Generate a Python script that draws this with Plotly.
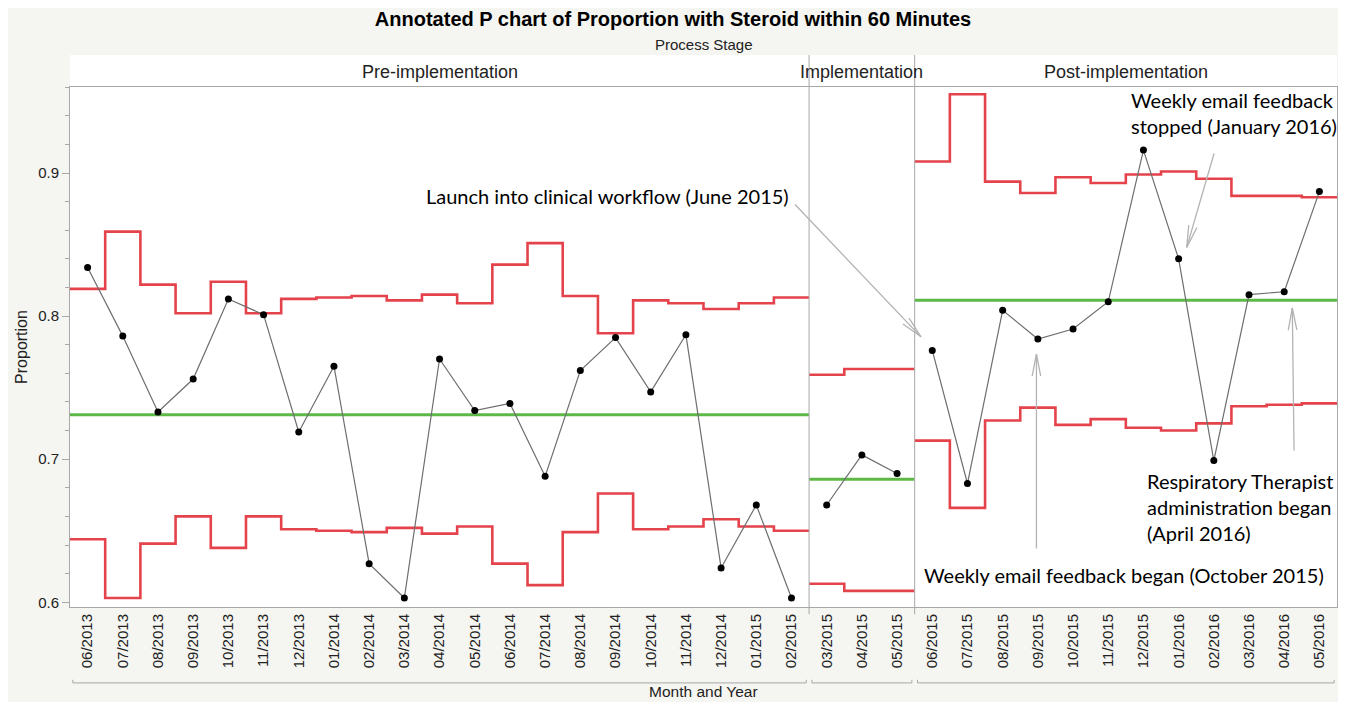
import math
import plotly.graph_objects as go

# ---------------- data ----------------
months = ["06/2013", "07/2013", "08/2013", "09/2013", "10/2013", "11/2013", "12/2013",
          "01/2014", "02/2014", "03/2014", "04/2014", "05/2014", "06/2014", "07/2014",
          "08/2014", "09/2014", "10/2014", "11/2014", "12/2014", "01/2015", "02/2015",
          "03/2015", "04/2015", "05/2015",
          "06/2015", "07/2015", "08/2015", "09/2015", "10/2015", "11/2015", "12/2015",
          "01/2016", "02/2016", "03/2016", "04/2016", "05/2016"]

stage_names = ["Pre-implementation", "Implementation", "Post-implementation"]
stage_sizes = [21, 3, 12]

proportion = [0.834, 0.786, 0.733, 0.756, 0.812, 0.801, 0.719, 0.765, 0.627, 0.603,
              0.770, 0.734, 0.739, 0.688, 0.762, 0.785, 0.747, 0.787, 0.624, 0.668, 0.603,
              0.668, 0.703, 0.690,
              0.776, 0.683, 0.804, 0.784, 0.791, 0.810, 0.916, 0.840, 0.699, 0.815, 0.817, 0.887]

ucl = [0.819, 0.859, 0.822, 0.802, 0.824, 0.802, 0.812, 0.813, 0.814, 0.811,
       0.815, 0.809, 0.836, 0.851, 0.814, 0.788, 0.811, 0.809, 0.805, 0.809, 0.813,
       0.759, 0.763, 0.763,
       0.908, 0.955, 0.894, 0.886, 0.897, 0.893, 0.899, 0.901, 0.896, 0.884, 0.884, 0.883]

lcl = [0.644, 0.603, 0.641, 0.660, 0.638, 0.660, 0.651, 0.650, 0.649, 0.652,
       0.648, 0.653, 0.627, 0.612, 0.649, 0.676, 0.651, 0.653, 0.658, 0.653, 0.650,
       0.613, 0.608, 0.608,
       0.713, 0.666, 0.727, 0.736, 0.724, 0.728, 0.722, 0.720, 0.725, 0.737, 0.738, 0.739]

center = [0.731, 0.686, 0.811]

annotation_texts = [
    "Launch into clinical workflow (June 2015)",
    "Weekly email feedback<br>stopped (January 2016)",
    "Respiratory Therapist<br>administration began<br>(April 2016)",
    "Weekly email feedback began (October 2015)",
]

# ---------------- styling / geometry ----------------
RED = "#e5434c"
GREEN = "#5cb947"
GRAY_LINE = "#6e6e6e"
FRAME = "#a8a8a8"
ARROW = "#b3b3b3"
BG = "#f5f5f1"
AX_FONT = "Liberation Sans, Arial, sans-serif"
NOTE_FONT = "Lato, Noto Sans, sans-serif"

FIG_W, FIG_H = 1330, 694
M_L, M_R, M_T, M_B = 62, 1, 79, 95
X_RANGE = [-0.5, 35.5]
Y_RANGE = [0.5967, 0.9601]
PLOT_W = FIG_W - M_L - M_R
PLOT_H = FIG_H - M_T - M_B
SX = PLOT_W / (X_RANGE[1] - X_RANGE[0])
SY = PLOT_H / (Y_RANGE[1] - Y_RANGE[0])

fig = go.Figure()

start = 0
bounds = []
for k, (name, size) in enumerate(zip(stage_names, stage_sizes)):
    idx = list(range(start, start + size))
    bounds.append((start, start + size - 1))
    edges = [i - 0.5 for i in idx] + [idx[-1] + 0.5]
    for lim in (ucl, lcl):
        vals = [lim[i] for i in idx]
        fig.add_trace(go.Scatter(x=edges, y=vals + [vals[-1]], mode="lines",
                                 line=dict(color=RED, width=2.6, shape="hv"),
                                 hoverinfo="skip", showlegend=False))
    c = center[k]
    fig.add_trace(go.Scatter(x=[edges[0], edges[-1]], y=[c, c], mode="lines",
                             line=dict(color=GREEN, width=3),
                             hoverinfo="skip", showlegend=False))
    fig.add_trace(go.Scatter(x=idx, y=[proportion[i] for i in idx], mode="lines+markers",
                             line=dict(color=GRAY_LINE, width=1.2),
                             marker=dict(color="black", size=7),
                             showlegend=False, name=name))
    start += size

shapes = []
shapes.append(dict(type="rect", xref="paper", yref="paper", x0=0, x1=1,
                   y0=1.002, y1=1.0615, fillcolor="white", line=dict(width=0), layer="below"))
for a, b in bounds[:-1]:
    shapes.append(dict(type="line", xref="x", yref="paper", x0=b + 0.5, x1=b + 0.5,
                       y0=-0.014, y1=1.0615, line=dict(color=FRAME, width=1)))
for a, b in bounds:
    x0, x1 = a - 0.42, b + 0.42
    shapes.append(dict(type="path", xref="x", yref="paper",
                       path=f"M {x0},-0.140 L {x0},-0.146 L {x1},-0.146 L {x1},-0.140",
                       line=dict(color=FRAME, width=1)))

annotations = []
for (a, b), name in zip(bounds, stage_names):
    annotations.append(dict(x=(a + b) / 2, y=1.0288, xref="x", yref="paper", text=name,
                            showarrow=False, font=dict(family=AX_FONT, size=18, color="#222"),
                            xanchor="center", yanchor="middle"))
annotations.append(dict(x=0.5, y=1.0808, xref="paper", yref="paper", text="Process Stage",
                        showarrow=False, xanchor="center", yanchor="middle",
                        font=dict(family=AX_FONT, size=15, color="#222")))
annotations.append(dict(x=0.5, y=-0.163, xref="paper", yref="paper", text="Month and Year",
                        showarrow=False, xanchor="center", yanchor="middle",
                        font=dict(family=AX_FONT, size=15.5, color="#222")))

note_font = dict(family=NOTE_FONT, size=20, color="black")
annotations += [
    dict(x=20.0, y=0.884, xref="x", yref="y", text=annotation_texts[0], showarrow=False,
         xanchor="right", yanchor="middle", font=note_font),
    dict(x=29.59, y=0.942, xref="x", yref="y", text=annotation_texts[1], showarrow=False,
         xanchor="left", yanchor="middle", align="left", font=note_font),
    dict(x=30.04, y=0.6666, xref="x", yref="y", text=annotation_texts[2], showarrow=False,
         xanchor="left", yanchor="middle", align="left", font=note_font),
    dict(x=23.71, y=0.619, xref="x", yref="y", text=annotation_texts[3], showarrow=False,
         xanchor="left", yanchor="middle", font=note_font),
]

arrows = [((20.06, 0.879), (23.68, 0.7855)),
          ((32.02, 0.9147), (31.23, 0.848)),
          ((34.28, 0.705), (34.23, 0.8057)),
          ((26.96, 0.6366), (26.96, 0.7734))]
BARB_LEN, BARB_ANG = 24, math.radians(11)
for (tx, ty), (hx, hy) in arrows:
    annotations.append(dict(x=hx, y=hy, ax=tx, ay=ty, xref="x", yref="y", axref="x", ayref="y",
                            text="", showarrow=True, arrowhead=0, arrowwidth=1.3,
                            arrowcolor=ARROW, standoff=0, startstandoff=0))
    dx = (tx - hx) * SX
    dy = -(ty - hy) * SY
    L = math.hypot(dx, dy)
    ux, uy = dx / L, dy / L
    for s in (1, -1):
        ca, sa = math.cos(s * BARB_ANG), math.sin(s * BARB_ANG)
        bx = (ux * ca - uy * sa) * BARB_LEN
        by = (ux * sa + uy * ca) * BARB_LEN
        annotations.append(dict(x=hx, y=hy, ax=bx, ay=by, xref="x", yref="y",
                                text="", showarrow=True, arrowhead=0, arrowwidth=1.3,
                                arrowcolor=ARROW, standoff=0, startstandoff=0))

fig.update_layout(
    width=FIG_W, height=FIG_H,
    paper_bgcolor=BG, plot_bgcolor="white",
    margin=dict(l=M_L, r=M_R, t=M_T, b=M_B),
    title=dict(text="<b>Annotated P chart of Proportion with Steroid within 60 Minutes</b>",
               x=0.5, xref="container", xanchor="center", y=1 - 11 / FIG_H, yref="container",
               yanchor="middle",
               font=dict(family=AX_FONT, size=20, color="black")),
    shapes=shapes, annotations=annotations,
    showlegend=False,
)
fig.update_xaxes(range=X_RANGE, tickmode="array", tickvals=list(range(len(months))),
                 ticktext=months, tickangle=-90, ticks="", showgrid=False, zeroline=False,
                 showline=True, linecolor=FRAME, linewidth=1, mirror=True,
                 tickfont=dict(family=AX_FONT, size=15, color="#222"))
fig.update_yaxes(range=Y_RANGE, tickmode="array", tickvals=[0.6, 0.7, 0.8, 0.9],
                 ticktext=["0.6", "0.7", "0.8", "0.9"], ticks="outside", ticklen=7,
                 tickcolor=FRAME, showgrid=False, zeroline=False,
                 showline=True, linecolor=FRAME, linewidth=1, mirror=True,
                 minor=dict(tickmode="linear", tick0=0.6, dtick=0.02, ticks="outside",
                            ticklen=4, tickcolor=FRAME, showgrid=False),
                 tickfont=dict(family=AX_FONT, size=15, color="#222"),
                 title=dict(text="Proportion", standoff=6,
                            font=dict(family=AX_FONT, size=16, color="#222")))

fig.write_html("out.html")
